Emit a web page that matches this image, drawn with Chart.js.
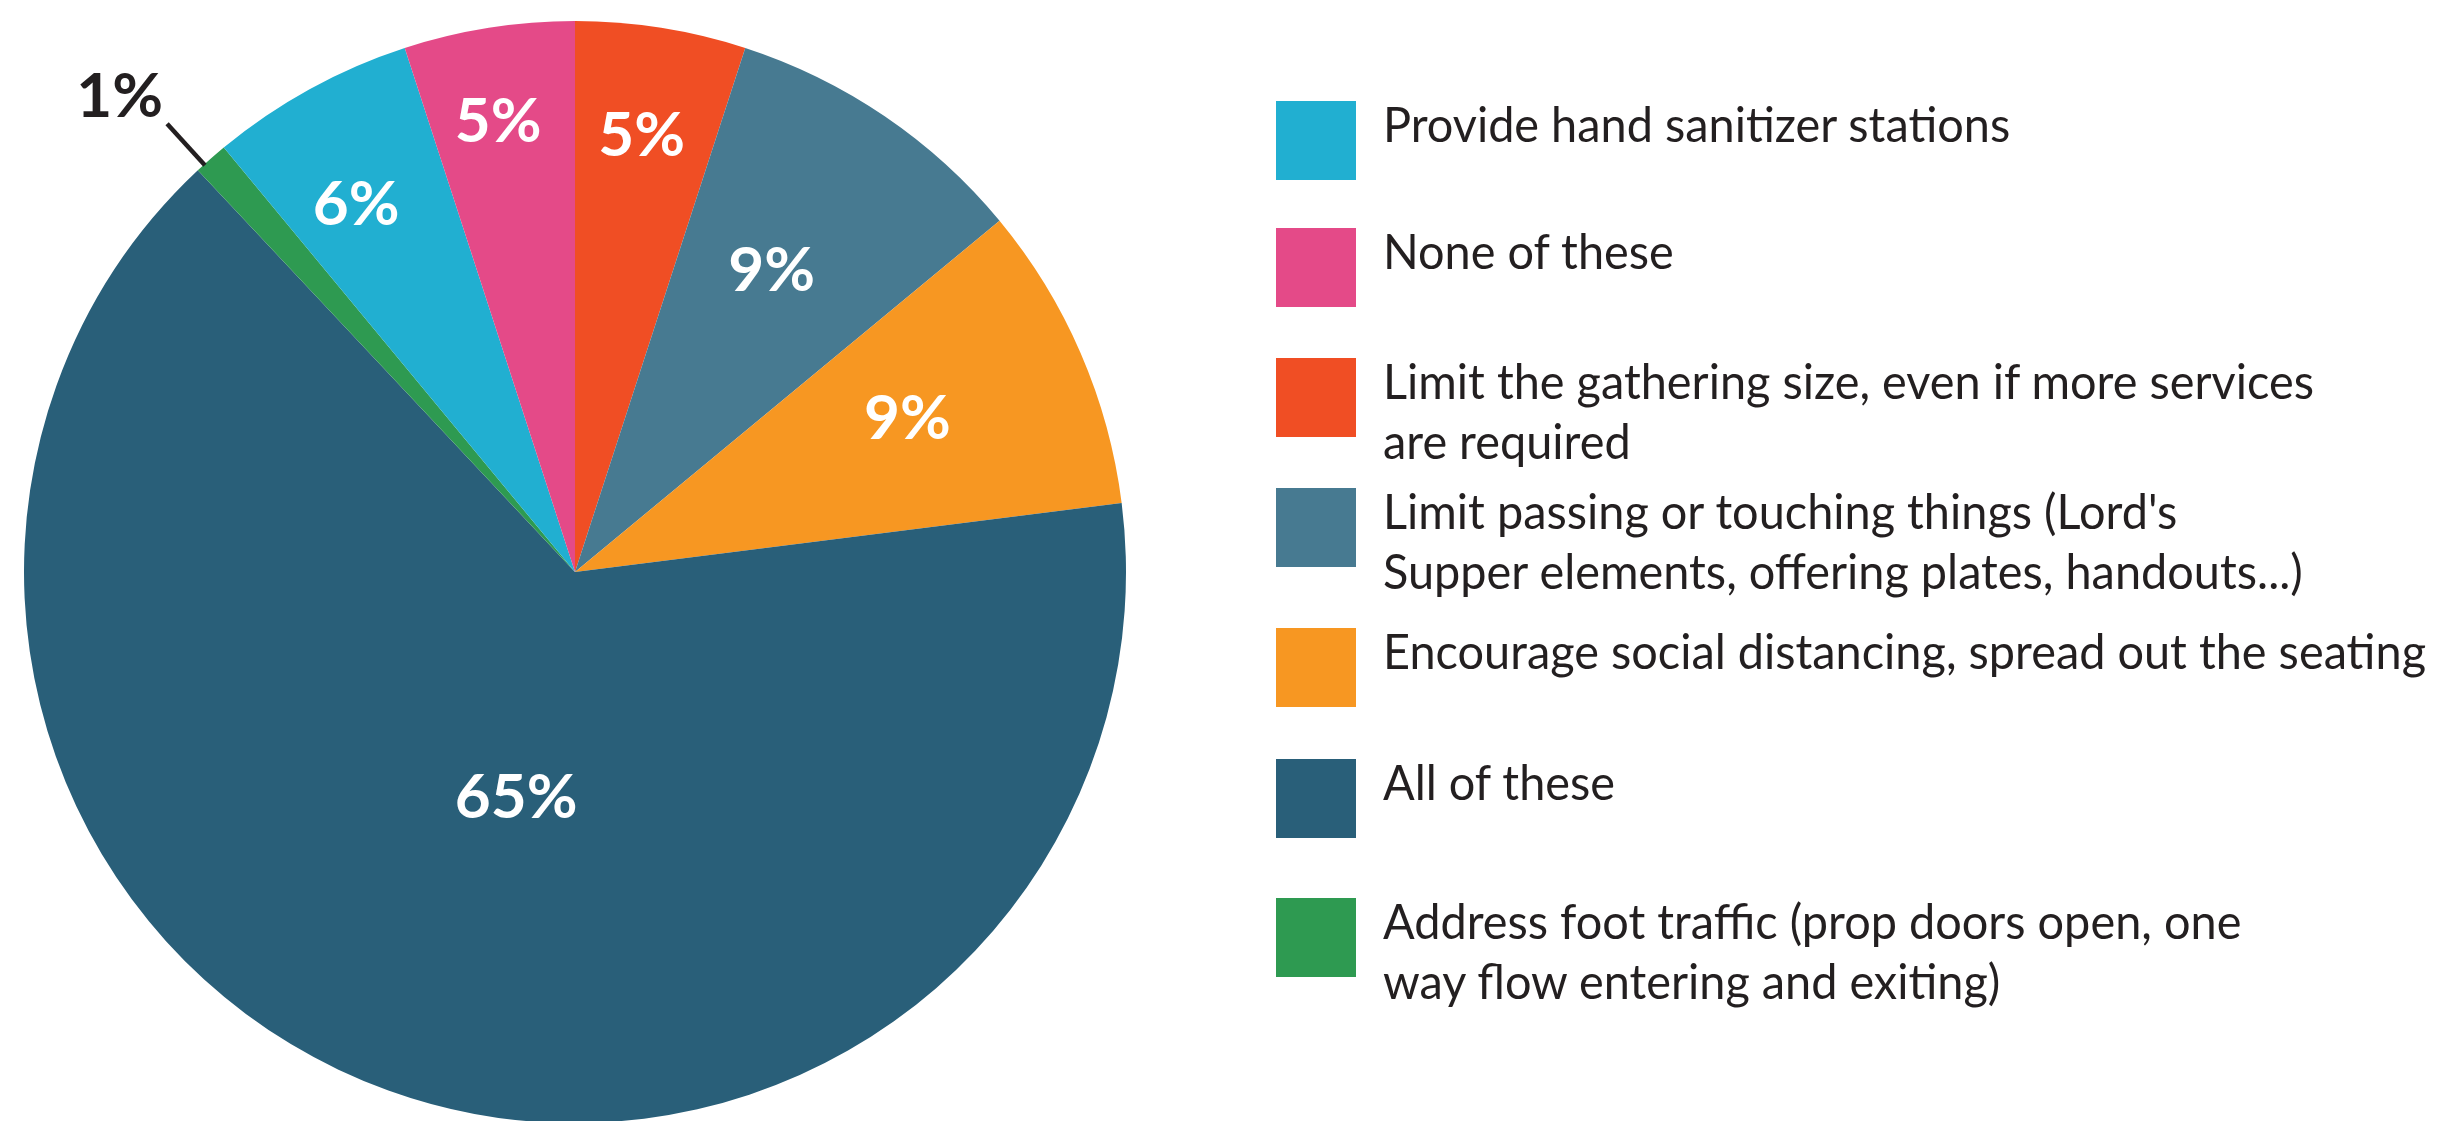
<!DOCTYPE html>
<html>
<head>
<meta charset="utf-8">
<script src="https://cdn.jsdelivr.net/npm/chart.js@4.4.1/dist/chart.umd.min.js"></script>
<style>
html,body{margin:0;padding:0;background:#fff;overflow:hidden;width:2437px;height:1121px;}
#pieBox{position:absolute;left:24px;top:21px;width:1102px;height:1102px;}
#legend{position:absolute;left:0;top:0;width:2437px;height:1121px;}
.item{position:absolute;left:1276px;}
.sw{position:absolute;left:0;top:0;width:80px;height:79px;}
.txt{position:absolute;left:107px;top:-8px;font-family:Lato,"Open Sans",sans-serif;font-size:49px;line-height:60px;color:#231f20;white-space:nowrap;transform-origin:0 0;}
</style>
</head>
<body>
<div id="pieBox"><canvas id="c"></canvas></div>
<div id="legend"></div>
<script>
// Data in clockwise drawing order, starting at 12 o'clock
const categories = [
  ['Limit the gathering size, even if more services', 'are required'],
  ["Limit passing or touching things (Lord's", 'Supper elements, offering plates, handouts...)'],
  ['Encourage social distancing, spread out the seating'],
  ['All of these'],
  ['Address foot traffic (prop doors open, one', 'way flow entering and exiting)'],
  ['Provide hand sanitizer stations'],
  ['None of these']
];
const values = [5, 9, 9, 65, 1, 6, 5];
const valueLabels = ['5%', '9%', '9%', '65%', '1%', '6%', '5%'];
const legendOrder = [5, 6, 0, 1, 2, 3, 4];

// Styling (kept apart from the data)
const colors = ['#F04E24', '#477A91', '#F79722', '#295F79', '#2E9A51', '#21AFD1', '#E44A88'];
const labelRadius = [0.80, 0.652, 0.664, 0.424, 1.194, 0.776, 0.828];
const labelNudgeDeg = [-0.3, -1, -1.3, -5.2, -2.4, -2.0, -0.7];
const labelColor = ['#fff', '#fff', '#fff', '#fff', '#231f20', '#fff', '#fff'];
const hasLeader = [false, false, false, false, true, false, false];
const legendTop = [101, 228, 358, 488, 628, 759, 898];

const sliceLabels = {
  id: 'sliceLabels',
  afterDatasetsDraw(chart) {
    const ctx = chart.ctx;
    const meta = chart.getDatasetMeta(0);
    ctx.save();
    ctx.font = 'bold 62px Lato, "Open Sans", sans-serif';
    ctx.textAlign = 'center';
    ctx.textBaseline = 'middle';
    meta.data.forEach((arc, i) => {
      const p = arc.getProps(['x', 'y', 'startAngle', 'endAngle', 'outerRadius'], true);
      const baseMid = (p.startAngle + p.endAngle) / 2;
      const mid = baseMid + labelNudgeDeg[i] * Math.PI / 180;
      const r = p.outerRadius * labelRadius[i];
      if (hasLeader[i]) {
        const la = baseMid - 0.9 * Math.PI / 180;
        ctx.beginPath();
        ctx.strokeStyle = '#231f20';
        ctx.lineWidth = 4.5;
        ctx.moveTo(p.x + Math.cos(la) * p.outerRadius * 0.998, p.y + Math.sin(la) * p.outerRadius * 0.998);
        ctx.lineTo(p.x + Math.cos(la) * p.outerRadius * 1.10, p.y + Math.sin(la) * p.outerRadius * 1.10);
        ctx.stroke();
      }
      ctx.fillStyle = labelColor[i];
      ctx.fillText(valueLabels[i], p.x + Math.cos(mid) * r, p.y + Math.sin(mid) * r);
    });
    ctx.restore();
  }
};

const chart = new Chart(document.getElementById('c'), {
  type: 'pie',
  data: {
    labels: categories,
    datasets: [{
      data: values,
      backgroundColor: colors,
      borderWidth: 0,
      hoverOffset: 0
    }]
  },
  options: {
    responsive: true,
    maintainAspectRatio: false,
    animation: false,
    events: [],
    layout: { padding: 0 },
    plugins: { legend: { display: false }, tooltip: { enabled: false } }
  },
  plugins: [sliceLabels]
});

// HTML legend built from the chart's data
const legend = document.getElementById('legend');
const txtEls = [];
legendOrder.forEach((idx, k) => {
  const item = document.createElement('div');
  item.className = 'item';
  item.style.top = legendTop[k] + 'px';
  const sw = document.createElement('div');
  sw.className = 'sw';
  sw.style.background = chart.data.datasets[0].backgroundColor[idx];
  const txt = document.createElement('div');
  txt.className = 'txt';
  chart.data.labels[idx].forEach(line => {
    const d = document.createElement('div');
    d.textContent = line;
    txt.appendChild(d);
  });
  item.appendChild(sw);
  item.appendChild(txt);
  legend.appendChild(item);
  txtEls.push({ el: txt, idx });
});
// condense the text so the longest line spans the same width as the reference
const ref = txtEls.find(t => t.idx === 2).el;
const w = ref.getBoundingClientRect().width;
const k = 1043 / w;
txtEls.forEach(t => { t.el.style.transform = 'scaleX(' + k + ')'; });
</script>
</body>
</html>
